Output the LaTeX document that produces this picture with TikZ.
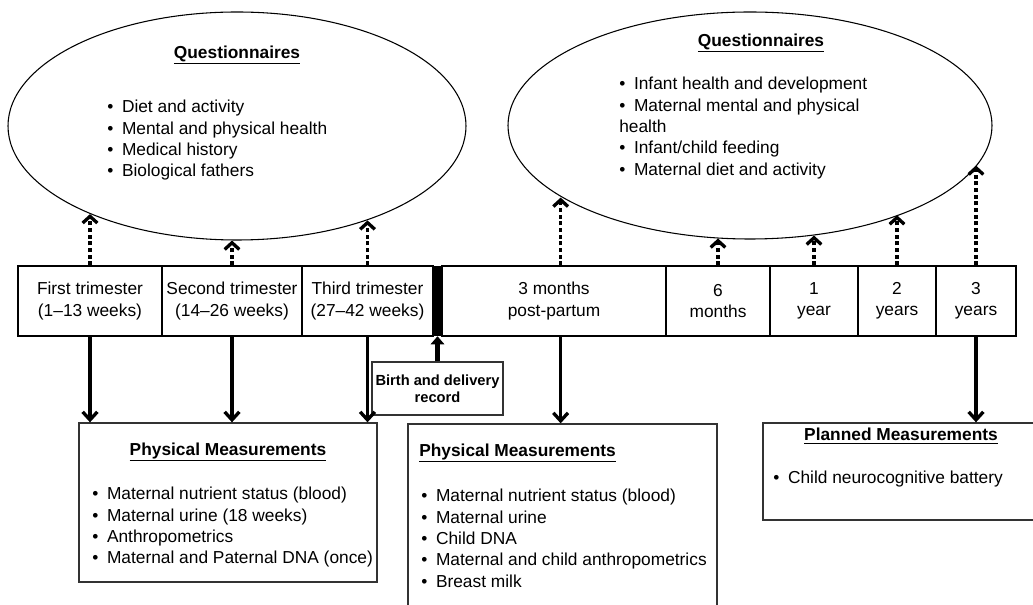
\documentclass[tikz,border=0pt]{standalone}
\usepackage{fontspec}
\setmainfont{Liberation Sans}
\usetikzlibrary{arrows.meta, shapes.geometric}

\newcommand{\bul}{\textbullet\hspace{0.5em}}

\begin{document}
\begin{tikzpicture}[x=0.75pt, y=-0.75pt,
        every node/.style={font=\fontsize{13pt}{16pt}\selectfont, inner sep=0pt},
        oval/.style={draw, ellipse, line width=0.8pt},
        cell/.style={draw, line width=0.8pt, minimum height=52.5pt, align=center},
        mbox/.style={draw=black!80, line width=1pt},
        list/.style={align=left, anchor=north west},
        uparrow/.style={line width=2.5pt, dash pattern=on 3pt off 2pt, -{Straight Barb[length=5pt, width=11pt]}},
        downarrow/.style={line width=2.5pt, -{Straight Barb[length=6pt, width=11pt]}},
        birtharrow/.style={line width=3.2pt, -{Triangle[length=6pt, width=10pt]}}]
    \useasboundingbox (0, 0) rectangle (1033, 605);

    % questionnaires
    \node[oval, minimum width=343.5pt, minimum height=171pt] (qa) at (237, 126) {};
    \node (qa-title) at (237, 55) {\underline{\textbf{Questionnaires}}};
    \node[list] (qa-list) at (107, 100) {\bul Diet and activity\\ \bul Mental and physical health\\ \bul Medical history\\ \bul Biological fathers};

    \node[oval, minimum width=363pt, minimum height=170.25pt] (qb) at (750, 125.5) {};
    \node (qb-title) at (761, 43) {\underline{\textbf{Questionnaires}}};
    \node[list] (qb-list) at (619, 77) {\bul Infant health and development\\ \bul Maternal mental and physical\\health\\ \bul Infant/child feeding\\ \bul Maternal diet and activity};

    % timeline
    \node[cell, minimum width=108pt] (t1) at (90, 301) {First trimester\\(1--13 weeks)};
    \node[cell, minimum width=105pt] (t2) at (232, 301) {Second trimester\\(14--26 weeks)};
    \node[cell, minimum width=98.25pt] (t3) at (367.5, 301) {Third trimester\\(27--42 weeks)};
    \node[fill=black, minimum width=6pt, minimum height=52.5pt] (bar) at (437.5, 301) {};
    \node[cell, minimum width=168pt] (t4) at (554, 301) {3 months\\post-partum};
    \node[cell, minimum width=78pt] (t5) at (718, 301) {6\\months};
    \node[cell, minimum width=66pt] (t6) at (814, 301) {1\\year};
    \node[cell, minimum width=58.5pt] (t7) at (897, 301) {2\\years};
    \node[cell, minimum width=60pt] (t8) at (976, 301) {3\\years};

    % measurements
    \node[mbox, minimum width=98.25pt, minimum height=39.75pt, align=center, font=\fontsize{11pt}{12.75pt}\selectfont\bfseries] (birth) at (437.5, 388.5) {Birth and delivery\\record};

    \node[mbox, minimum width=223.5pt, minimum height=119.25pt] (pm1) at (228, 502.5) {};
    \node (pm1-title) at (228, 452) {\underline{\textbf{Physical Measurements}}};
    \node[list] (pm1-list) at (92, 487) {\bul Maternal nutrient status (blood)\\ \bul Maternal urine (18 weeks)\\ \bul Anthropometrics\\ \bul Maternal and Paternal DNA (once)};

    \node[mbox, minimum width=231.75pt, minimum height=139.5pt] (pm2) at (562.5, 517) {};
    \node[anchor=west] (pm2-title) at (419, 453) {\underline{\textbf{Physical Measurements}}};
    \node[list] (pm2-list) at (421, 489) {\bul Maternal nutrient status (blood)\\ \bul Maternal urine\\ \bul Child DNA\\ \bul Maternal and child anthropometrics\\ \bul Breast milk};

    \node[mbox, minimum width=211.5pt, minimum height=72.75pt] (pl) at (904, 471.5) {};
    \node (pl-title) at (901, 436) {\underline{\textbf{Planned Measurements}}};
    \node[list] (pl-list) at (773, 471) {\bul Child neurocognitive battery};

    % arrows up to the questionnaires
    \draw[uparrow] (t1.north) -- (t1.north |- qa.211);
    \draw[uparrow] (t2.north) -- (t2.north |- qa.269);
    \draw[uparrow] (t3.north) -- (t3.north |- qa.324);
    \draw[uparrow] ([xshift=5pt]t4.north) -- ([xshift=5pt]t4.north |- qb.201);
    \draw[uparrow] (t5.north) -- (t5.north |- qb.254);
    \draw[uparrow] (t6.north) -- (t6.north |- qb.300);
    \draw[uparrow] (t7.north) -- (t7.north |- qb.329);
    \draw[uparrow] (t8.north) -- (t8.north |- qb.350);

    % arrows down to the measurements
    \draw[downarrow] (t1.south) -- (t1.south |- pm1.north);
    \draw[downarrow] (t2.south) -- (t2.south |- pm1.north);
    \draw[downarrow] (t3.south) -- (t3.south |- pm1.north);
    \draw[downarrow] ([xshift=5pt]t4.south) -- ([xshift=5pt]t4.south |- pm2.north);
    \draw[downarrow] (t8.south) -- (t8.south |- pl.north);
    \draw[birtharrow] (birth.north) -- (bar.south);
\end{tikzpicture}
\end{document}
